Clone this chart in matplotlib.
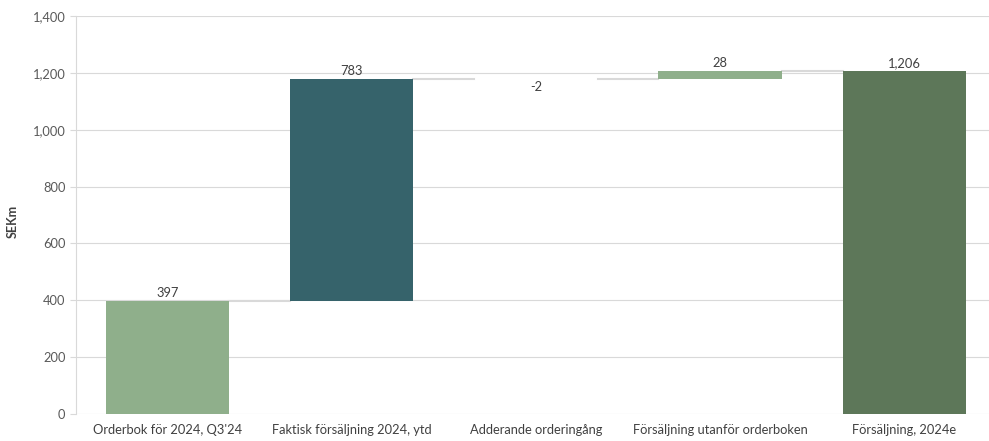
import matplotlib.pyplot as plt
from matplotlib.ticker import FuncFormatter

categories = ["Orderbok för 2024, Q3'24", "Faktisk försäljning 2024, ytd",
              "Adderande orderingång", "Försäljning utanför orderboken",
              "Försäljning, 2024e"]
values = [397, 783, -2, 28, 1206]
is_total = [False, False, False, False, True]
colors = ["#8FAF8B", "#36636B", "#EFEADB", "#8FAF8B", "#5D7759"]

plt.rcParams['font.family'] = ['Lato', 'DejaVu Sans']

fig = plt.figure(figsize=(9.89, 4.41), dpi=100)
ax = fig.add_axes([0.0768, 0.0612, 0.9232, 0.9025])

width = 0.67
running = 0
tops = []
for i, (v, tot) in enumerate(zip(values, is_total)):
    if tot:
        bottom, height = 0, v
        running = v
    else:
        bottom = running if v >= 0 else running + v
        height = abs(v)
        running += v
    tops.append(running)
    ax.bar(i, height, bottom=bottom, width=width, color=colors[i], zorder=3)
    if v >= 0:
        ax.text(i, bottom + height + 6, f"{v:,}", ha='center', va='bottom',
                fontsize=9.3, color='#404040')
    else:
        ax.text(i, bottom - 6, f"{v:,}", ha='center', va='top',
                fontsize=9.3, color='#404040')

# connector lines
for i in range(len(values) - 1):
    ax.plot([i + width / 2, i + 1 - width / 2], [tops[i], tops[i]],
            color='#D9D9D9', lw=1.5, zorder=2)

ax.set_xlim(-0.497, 4.46)
ax.set_ylim(0, 1400)
ax.set_yticks(range(0, 1401, 200))
ax.yaxis.set_major_formatter(FuncFormatter(lambda x, p: f"{int(x):,}"))
ax.set_xticks(range(len(categories)))
ax.set_xticklabels(categories)
ax.grid(axis='y', color='#D9D9D9', lw=0.8, zorder=0)
for s in ['top', 'right', 'bottom']:
    ax.spines[s].set_visible(False)
ax.spines['left'].set_color('#D9D9D9')
ax.tick_params(axis='y', colors='#D9D9D9', labelcolor='#595959', labelsize=9.3, length=4)
ax.tick_params(axis='x', length=0, labelcolor='#404040', labelsize=9.3, pad=7)
ax.set_ylabel("SEKm", fontsize=9, fontweight='bold', color='#404040')
ax.yaxis.set_label_coords(-0.063, 0.485)

fig.savefig('out.png', dpi=100)
